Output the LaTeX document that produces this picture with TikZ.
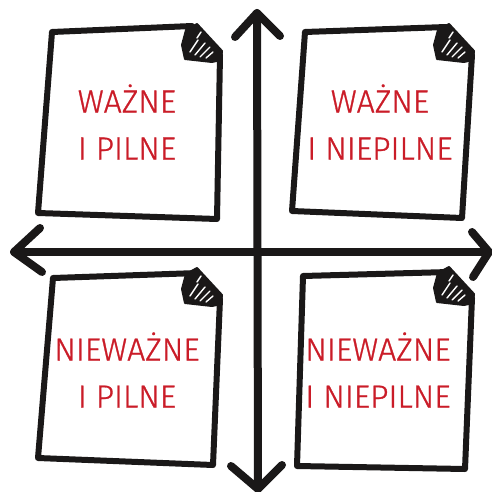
\documentclass[tikz,border=0pt]{standalone}
\usepackage{fontspec}
\setmainfont{Fira Sans Light}
\newfontfamily\lblfont{Fira Sans Light}[FakeBold=0.9]
\definecolor{notered}{RGB}{202,28,40}
\definecolor{ink}{RGB}{26,24,24}
\tikzset{
  outline/.style={line width=6, line join=round, line cap=round, draw=ink},
  axisline/.style={line width=8, line cap=round, line join=round, draw=ink},
  lbl/.style={text=notered, align=center, font=\lblfont\fontsize{32}{47}\selectfont, inner sep=0pt},
  foldfill/.style={fill=ink, draw=ink, line width=2, line join=round},
  hatch/.style={draw=white, line width=1.4, line cap=round}
}
\newcommand\notefold[1]{%
  \begin{scope}[shift={(#1)}]
    \filldraw[foldfill] (-23,-31) -- (2,-4) -- (1,5) -- (-8,7) -- (-35,4) -- (-38,-10) -- (-34,-25) -- cycle;
    \draw[hatch] (-30,-3) -- (-22,-15);
    \draw[hatch] (-25,0) -- (-15,-12);
    \draw[hatch] (-20,2) -- (-10,-8);
    \draw[hatch] (-14,3) -- (-7,-3);
    \draw[hatch] (-23,-17) -- (-19,-23);
  \end{scope}}
\begin{document}
\begin{tikzpicture}[x=1pt,y=-1pt]
\useasboundingbox (0,0) rectangle (492,492);
% axes
\coordinate (top) at (257,13);
\coordinate (bot) at (258,489);
\coordinate (lft) at (14,252);
\coordinate (rgt) at (489,252);
\draw[axisline] (top) -- (bot);
\draw[axisline] (lft) -- (rgt);
\draw[axisline] (235,37) -- (top) -- (280,36);
\draw[axisline] (231,466) -- (bot) -- (282,465);
\draw[axisline] (40,228) -- (lft) -- (42,272);
\draw[axisline] (472,232) -- (rgt) -- (473,277);
% note 1 (top left)
\coordinate (n1tl) at (52,32); \coordinate (n1a) at (192,26);
\coordinate (n1b) at (220,55); \coordinate (n1br) at (217,219); \coordinate (n1bl) at (38,213);
\draw[outline] (n1a) -- (n1tl) -- (n1bl) -- (n1br) -- (n1b);
\notefold{n1b}
\node[lbl] (t1) at (127,122) {WAŻNE\\I PILNE};
% note 2 (top right)
\coordinate (n2tl) at (305,32); \coordinate (n2a) at (446,27);
\coordinate (n2b) at (472,55); \coordinate (n2br) at (462,218); \coordinate (n2bl) at (292,211);
\draw[outline] (n2a) -- (n2tl) -- (n2bl) -- (n2br) -- (n2b);
\notefold{n2b}
\node[lbl] (t2) at (380,122) {WAŻNE\\I NIEPILNE};
% note 3 (bottom left)
\coordinate (n3tl) at (53,278); \coordinate (n3a) at (198,273);
\coordinate (n3b) at (220,299); \coordinate (n3br) at (213,465); \coordinate (n3bl) at (38,458);
\draw[outline] (n3a) -- (n3tl) -- (n3bl) -- (n3br) -- (n3b);
\notefold{n3b}
\node[lbl] (t3) at (127,370) {NIEWAŻNE\\I PILNE};
% note 4 (bottom right)
\coordinate (n4tl) at (303,276); \coordinate (n4a) at (449,272);
\coordinate (n4b) at (472,298); \coordinate (n4br) at (465,469); \coordinate (n4bl) at (297,466);
\draw[outline] (n4a) -- (n4tl) -- (n4bl) -- (n4br) -- (n4b);
\notefold{n4b}
\node[lbl] (t4) at (378,370) {NIEWAŻNE\\I NIEPILNE};
\end{tikzpicture}
\end{document}
